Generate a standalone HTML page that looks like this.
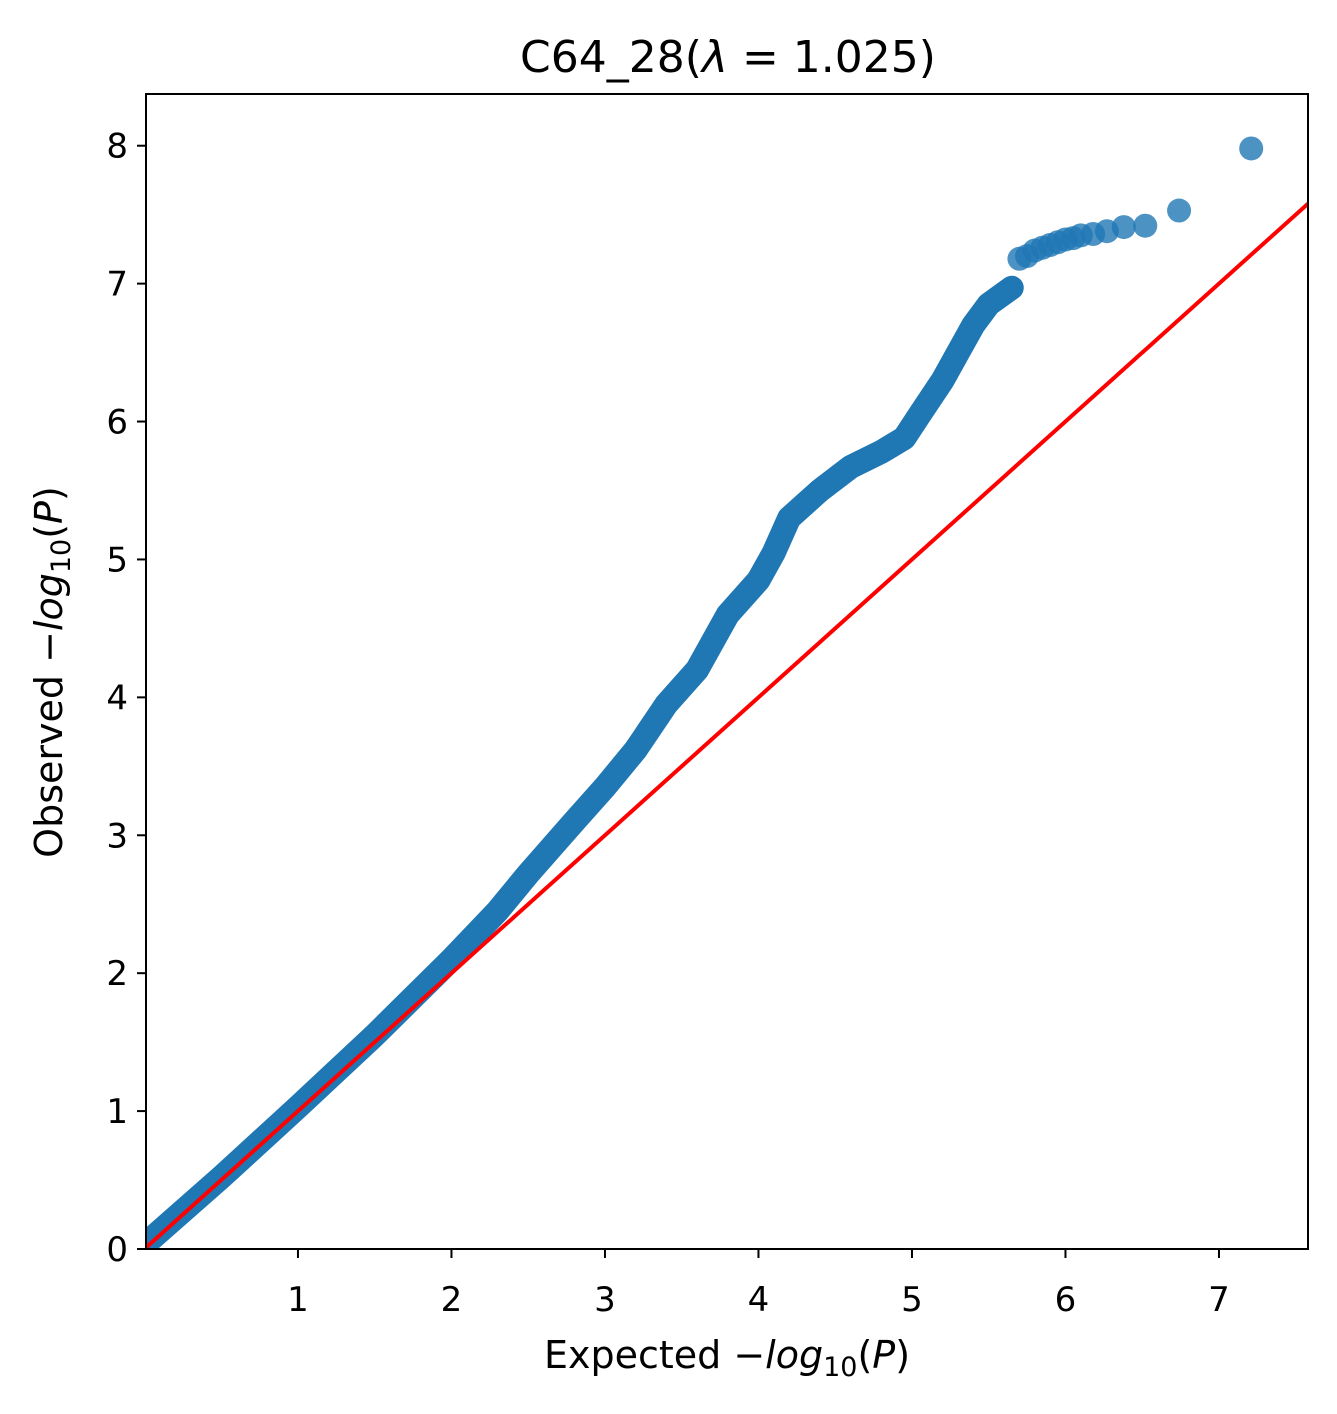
<!DOCTYPE html>
<html><head><meta charset="utf-8"><style>
body{margin:0;background:#fff;}
svg text{font-family:"DejaVu Sans","Liberation Sans",sans-serif;fill:#000;}
</style></head><body>
<svg id="chart" width="1337" height="1409" xmlns="http://www.w3.org/2000/svg">
<rect width="1337" height="1409" fill="#fff"/>
<g id="marks"></g>
<rect x="146" y="94" width="1162" height="1155" fill="none" stroke="#000" stroke-width="2"/>
<g id="axes"></g>
<text x="728" y="72" font-size="44" text-anchor="middle">C64_28(<tspan font-style="italic">λ</tspan> = 1.025)</text>
<text x="727" y="1368" font-size="38" text-anchor="middle">Expected −<tspan font-style="italic">log</tspan><tspan font-size="27" dy="8">10</tspan><tspan dy="-8">(</tspan><tspan font-style="italic">P</tspan>)</text>
<text transform="translate(62,672) rotate(-90)" font-size="38" text-anchor="middle">Observed −<tspan font-style="italic">log</tspan><tspan font-size="27" dy="8">10</tspan><tspan dy="-8">(</tspan><tspan font-style="italic">P</tspan>)</text>
</svg>
<script>
const bandExpected=[0.02,0.5,1,1.5,2,2.3,2.5,2.8,3.0,3.2,3.4,3.6,3.8,4.0,4.1,4.2,4.4,4.6,4.8,4.95,5.05,5.2,5.3,5.4,5.5,5.65];
const bandObserved=[0.05,0.52,1.03,1.55,2.1,2.45,2.72,3.1,3.35,3.62,3.95,4.2,4.6,4.85,5.05,5.3,5.5,5.67,5.78,5.88,6.05,6.3,6.5,6.7,6.85,6.97];
const topExpected=[5.7,5.75,5.8,5.85,5.9,5.95,6.0,6.05,6.1,6.18,6.27,6.38,6.52,6.74,7.21];
const topObserved=[7.18,7.2,7.24,7.26,7.28,7.3,7.32,7.33,7.35,7.36,7.38,7.41,7.42,7.53,7.98];
const xTicks=[1,2,3,4,5,6,7];
const yTicks=[0,1,2,3,4,5,6,7,8];
const X0=146,X1=1308,Y0=1249,Y1=94,XMIN=0.01,XMAX=7.58,YMIN=0,YMAX=8.375;
const sx=v=>X0+(v-XMIN)/(XMAX-XMIN)*(X1-X0);
const sy=v=>Y0-(v-YMIN)/(YMAX-YMIN)*(Y0-Y1);
const NS="http://www.w3.org/2000/svg";
const marks=document.getElementById('marks'),axes=document.getElementById('axes');
function mk(tag,attrs,parent){const e=document.createElementNS(NS,tag);for(const k in attrs)e.setAttribute(k,attrs[k]);parent.appendChild(e);return e;}
const clip=mk('clipPath',{id:'c'},marks);mk('rect',{x:X0,y:Y1,width:X1-X0,height:Y0-Y1},clip);
const g=mk('g',{'clip-path':'url(#c)'},marks);
const band=mk('polyline',{points:bandExpected.map((v,i)=>sx(v)+','+sy(bandObserved[i])).join(' '),fill:'none',stroke:'#1f77b4','stroke-width':24,'stroke-linecap':'round','stroke-linejoin':'round'},g);


topExpected.forEach((v,i)=>{const c=mk('circle',{cx:sx(v),cy:sy(topObserved[i]),r:12,fill:'#1f77b4','fill-opacity':0.8},g);

});
const ln=mk('line',{x1:sx(0),y1:sy(0),x2:sx(XMAX+0.1),y2:sy(XMAX+0.1),stroke:'#ff0000','stroke-width':4},g);


xTicks.forEach(t=>{mk('line',{x1:sx(t),x2:sx(t),y1:Y0,y2:Y0+9,stroke:'#000','stroke-width':2},axes);
const tx=mk('text',{x:sx(t),y:Y0+62,'font-size':34,'text-anchor':'middle'},axes);tx.textContent=t;

});
yTicks.forEach(t=>{mk('line',{x1:X0-9,x2:X0,y1:sy(t),y2:sy(t),stroke:'#000','stroke-width':2},axes);
const tx=mk('text',{x:X0-18,y:sy(t)+12,'font-size':34,'text-anchor':'end'},axes);tx.textContent=t;

});
</script>
</body></html>
